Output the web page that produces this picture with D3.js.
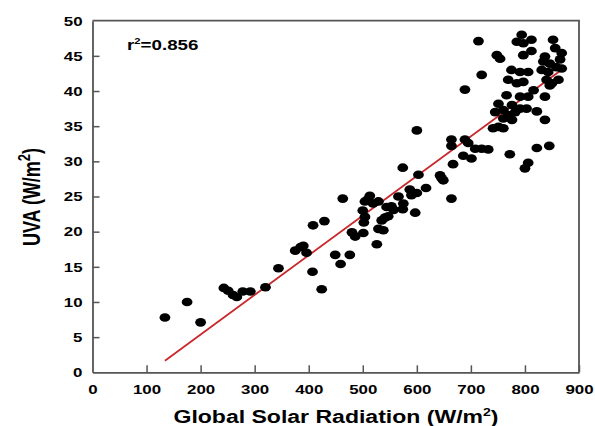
<!DOCTYPE html>
<html><head><meta charset="utf-8">
<script src="https://cdn.jsdelivr.net/npm/d3@7"></script>
<style>
html,body{margin:0;padding:0;background:#fff;}
svg{display:block;font-family:"Liberation Sans",Arial,sans-serif;font-weight:bold;}
</style></head>
<body><svg id="c" width="595" height="426"></svg>
<script>
// Global solar radiation (W/m2)
const solar = [134,175,200,243,251,260,267,278,292,320,344,375,385,390,396,407,408,424,429,449,459,463,476,
480,486,501,500,504,502,504,513,519,526,529,529,535,538,541,544,547,557,566,574,575,574,587,590,597,600,600,603,617,643,646,649,
664,664,664,667,686,689,689,695,701,708,714,720,720,732,741,745,748,751,751,754,760,760,760,766,769,769,772,775,776,776,782,
785,794,797,812,852,797,812,856,868,865,837,834,846,858,831,843,791,806,785,797,840,850,862,816,791,806,837,791,803,822,837,822,845,806,800,846,868,510,553];
// UVA (W/m2)
const uva = [7.8,10.0,7.1,12.0,11.6,11.0,10.7,11.5,11.5,12.1,14.8,17.3,17.8,18.0,17.0,14.3,20.9,11.8,21.5,16.7,15.4,24.7,16.7,
19.9,19.3,19.8,23.0,22.1,21.3,24.3,25.1,24.0,18.2,20.4,24.3,21.6,20.2,22.0,23.5,22.2,23.1,25.0,23.2,24.0,29.1,26.0,25.2,22.7,25.5,34.4,28.1,26.2,28.0,27.6,27.3,
33.1,32.2,24.7,29.6,30.8,33.1,40.2,32.6,30.4,31.8,47.1,31.8,42.3,31.7,34.7,37.0,45.1,38.2,34.9,44.6,37.3,36.1,34.7,39.4,41.6,36.6,31.0,43.0,38.0,35.9,37.0,
47.0,48.0,46.8,47.3,47.3,45.1,45.7,46.1,45.4,44.5,44.9,44.2,43.9,43.4,43.0,42.7,42.7,42.7,41.1,41.3,41.6,41.1,41.6,40.1,39.2,39.2,39.2,37.5,37.5,37.1,35.9,31.9,32.2,29.8,29.0,40.8,43.2,24.6,23.6];
// regression line end points
const fitX = [134, 871];
const fitY = [1.65, 43.2];
const xTicks = [0,100,200,300,400,500,600,700,800,900];
const yTicks = [0,5,10,15,20,25,30,35,40,45,50];
const r2Label = "0.856";

const svg = d3.select("#c");
const L = 92.5, R = 579, T = 20.7, B = 372.3;
const x = d3.scaleLinear().domain([0,900]).range([L,R]);
const y = d3.scaleLinear().domain([0,50]).range([B,T]);
const SX = 1.25; // horizontal stretch of the text in the reference
const axisCol = "#555";

// frame (top & right)
svg.append("path").attr("d",`M${L},${T}H${R}V${B}`).attr("fill","none").attr("stroke",axisCol).attr("stroke-width",1.8);

const gx = svg.append("g").attr("transform",`translate(0,${B})`)
  .call(d3.axisBottom(x).tickValues(xTicks).tickSizeInner(-7).tickSizeOuter(0).tickPadding(10));
const gy = svg.append("g").attr("transform",`translate(${L},0)`)
  .call(d3.axisLeft(y).tickValues(yTicks).tickSizeInner(-7).tickSizeOuter(0).tickPadding(10));
[gx,gy].forEach(g=>{
  g.select(".domain").attr("stroke",axisCol).attr("stroke-width",1.8);
  g.selectAll(".tick line").attr("stroke",axisCol).attr("stroke-width",1.5);
  g.selectAll(".tick text").attr("fill","#000").attr("font-size",13.5).attr("font-weight","bold")
    .attr("font-family","'Liberation Sans',Arial,sans-serif");
});
gx.selectAll(".tick").filter(d=>d===0).select("line").remove();
gy.selectAll(".tick").filter(d=>d===0||d===50).select("line").remove();
// stretch tick text horizontally
gx.selectAll(".tick text").attr("transform",`scale(${SX},1)`).attr("y", 12);
gy.selectAll(".tick text").each(function(){
  const t=d3.select(this); const xv=+t.attr("x");
  t.attr("x", (xv)/SX).attr("transform",`scale(${SX},1)`);
});

// fitted line
svg.append("line").attr("x1",x(fitX[0])).attr("y1",y(fitY[0])).attr("x2",x(fitX[1])).attr("y2",y(fitY[1]))
  .attr("stroke","#c8282c").attr("stroke-width",1.8);

// points
svg.append("g").selectAll("ellipse").data(solar.map((s,i)=>[s,uva[i]])).join("ellipse")
  .attr("cx",d=>x(d[0])).attr("cy",d=>y(d[1])).attr("rx",5.4).attr("ry",4.3).attr("fill","#000");

// r2 label
const rg = svg.append("g").attr("transform",`translate(127,50) scale(${SX},1)`);
const rt = rg.append("text").attr("font-size",15).attr("fill","#000");
rt.append("tspan").text("r");
rt.append("tspan").attr("font-size",9).attr("dy",-6).text("2");
rt.append("tspan").attr("dy",6).text("="+r2Label);

// x title
const xg = svg.append("g").attr("transform",`translate(336,423) scale(1.28,1)`);
const xt = xg.append("text").attr("text-anchor","middle").attr("font-size",18).attr("fill","#000");
xt.append("tspan").text("Global Solar Radiation (W/m");
xt.append("tspan").attr("font-size",11).attr("dy",-7).text("2");
xt.append("tspan").attr("dy",7).text(")");

// y title
const yg = svg.append("g").attr("transform",`translate(40,197) rotate(-90) scale(1,1.28)`);
const yt = yg.append("text").attr("text-anchor","middle").attr("font-size",18).attr("fill","#000");
yt.append("tspan").text("UVA (W/m");
yt.append("tspan").attr("font-size",13).attr("dy",-8).text("2");
yt.append("tspan").attr("dy",8).text(")");
</script></body></html>
